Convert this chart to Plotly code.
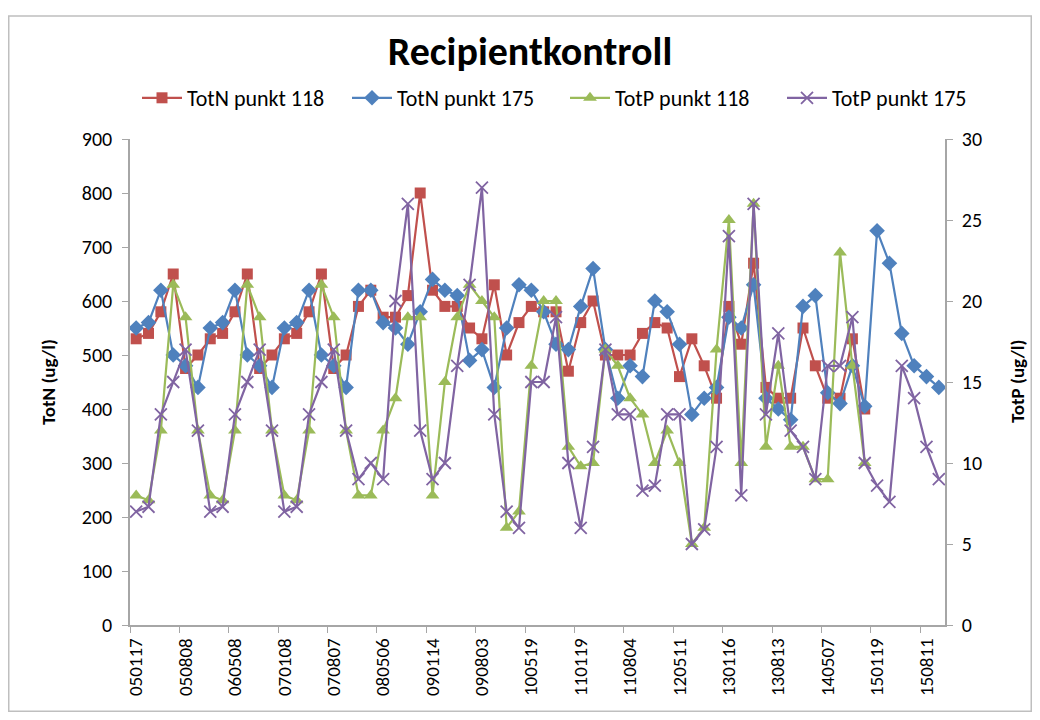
import plotly.graph_objects as go

# Tick labels (every 4th sampling date, YYMMDD)
tick_labels = ["050117", "050808", "060508", "070108", "070807", "080506", "090114",
               "090803", "100519", "110119", "110804", "120511", "130116", "130813",
               "140507", "150119", "150811"]
n_samples = 66

totn_118 = [530, 540, 580, 650, 475, 500, 530, 540, 580, 650, 475, 500,
            530, 540, 580, 650, 475, 500, 590, 620, 570, 570, 610, 800,
            620, 590, 590, 550, 530, 630, 500, 560, 590, 580, 580, 470,
            560, 600, 500, 500, 500, 540, 560, 550, 460, 530, 480, 420,
            590, 520, 670, 440, 420, 420, 550, 480, 420, 420, 530, 400,
            None, None, None, None, None, None]
totn_175 = [550, 560, 620, 500, 480, 440, 550, 560, 620, 500, 480, 440,
            550, 560, 620, 500, 480, 440, 620, 620, 560, 550, 520, 580,
            640, 620, 610, 490, 510, 440, 550, 630, 620, 580, 520, 510,
            590, 660, 510, 420, 480, 460, 600, 580, 520, 390, 420, 440,
            570, 550, 630, 420, 400, 380, 590, 610, 430, 410, 480, 405,
            730, 670, 540, 480, 460, 440]
totp_118 = [8, 7.7, 12, 21, 19, 12, 8, 7.7, 12, 21, 19, 12,
            8, 7.7, 12, 21, 19, 12, 8, 8, 12, 14, 19, 19,
            8, 15, 19, 21, 20, 19, 6, 7, 16, 20, 20, 11,
            9.8, 10, 17, 16, 14, 13, 10, 12, 10, 5, 6, 17,
            25, 10, 26, 11, 16, 11, 11, 9, 9, 23, 16, 10,
            None, None, None, None, None, None]
totp_175 = [7, 7.3, 13, 15, 17, 12, 7, 7.3, 13, 15, 17, 12,
            7, 7.3, 13, 15, 17, 12, 9, 10, 9, 20, 26, 12,
            9, 10, 16, 21, 27, 13, 7, 6, 15, 15, 19, 10,
            6, 11, 17, 13, 13, 8.3, 8.6, 13, 13, 5, 5.9, 11,
            24, 8, 26, 13, 18, 12, 11, 9, 16, 16, 19, 10,
            8.6, 7.6, 16, 14, 11, 9]

xs = list(range(n_samples))
tick_pos = list(range(0, n_samples, 4))

RED = "#C0504D"
BLUE = "#4F81BD"
GREEN = "#9BBB59"
PURPLE = "#8064A2"
AXIS = "#A6A6A6"
FONT = "Carlito, Lato, 'Open Sans', sans-serif"

# figure is drawn at page offset (8, 8) because of the page body margin
W, H = 1024, 704
L, R, T, B = 122, 87, 131, 87
PW, PH = W - L - R, H - T - B

fig = go.Figure()
fig.add_trace(go.Scatter(x=xs, y=totn_118, name="TotN punkt 118", mode="lines+markers",
                         legend="legend",
                         line=dict(color=RED, width=2.2),
                         marker=dict(symbol="square", size=11, color=RED)))
fig.add_trace(go.Scatter(x=xs, y=totn_175, name="TotN punkt 175", mode="lines+markers",
                         legend="legend2",
                         line=dict(color=BLUE, width=2.2),
                         marker=dict(symbol="diamond", size=12, color=BLUE)))
fig.add_trace(go.Scatter(x=xs, y=totp_118, name="TotP punkt 118", mode="lines+markers",
                         legend="legend3",
                         yaxis="y2", line=dict(color=GREEN, width=2.2),
                         marker=dict(symbol="triangle-up", size=12, color=GREEN)))
fig.add_trace(go.Scatter(x=xs, y=totp_175, name="TotP punkt 175", mode="lines+markers",
                         legend="legend4",
                         yaxis="y2", line=dict(color=PURPLE, width=2.2),
                         marker=dict(symbol="x-thin", size=12, color=PURPLE,
                                     line=dict(width=1.8, color=PURPLE))))


def legend_at(page_x):
    return dict(orientation="h", x=(page_x - 8 - L) / PW, xanchor="left",
                y=1 + (T - 90) / PH, yanchor="middle",
                font=dict(size=22, family=FONT), bgcolor="rgba(0,0,0,0)",
                itemwidth=40)


fig.update_layout(
    width=W, height=H,
    margin=dict(l=L, r=R, t=T, b=B),
    paper_bgcolor="white", plot_bgcolor="white",
    font=dict(family=FONT, size=18, color="#000000"),
    title=dict(text="<b>Recipientkontroll</b>", x=522 / W, xref="container", xanchor="center",
               y=1 - 43 / H, yref="container", yanchor="middle",
               font=dict(size=40, family=FONT, color="#000000")),
    legend=legend_at(137),
    legend2=legend_at(347),
    legend3=legend_at(565),
    legend4=legend_at(782),
    showlegend=True,
    xaxis=dict(range=[-0.5, n_samples - 0.5], tickmode="array", tickvals=tick_pos,
               ticktext=tick_labels, tickangle=-90, ticks="", showgrid=False,
               zeroline=False, showline=True, linecolor=AXIS, linewidth=1.5,
               tickfont=dict(size=19, family=FONT), ticklabelstandoff=4,
               minor=dict(ticks="outside", tick0=-0.5, dtick=4, ticklen=6,
                          tickcolor=AXIS, tickwidth=1, showgrid=False)),
    yaxis=dict(range=[0, 900], dtick=100, ticks="outside", ticklen=6, tickcolor=AXIS,
               showgrid=False, zeroline=False, showline=True, linecolor=AXIS,
               linewidth=1.5, tickfont=dict(size=20, family=FONT), ticklabelstandoff=6),
    yaxis2=dict(range=[0, 30], dtick=5, overlaying="y", side="right", ticks="outside",
                ticklen=6, tickcolor=AXIS, showgrid=False, zeroline=False,
                showline=True, linecolor=AXIS, linewidth=1.5,
                tickfont=dict(size=20, family=FONT), ticklabelstandoff=5),
)

fig.add_annotation(text="<b>TotN (ug/l)</b>", xref="paper", yref="paper",
                   x=(40 - L) / PW, y=0.5, xanchor="center", yanchor="middle",
                   textangle=-90, showarrow=False, font=dict(size=19, family=FONT))
fig.add_annotation(text="<b>TotP (ug/l)</b>", xref="paper", yref="paper",
                   x=(1009 - L) / PW, y=0.5, xanchor="center", yanchor="middle",
                   textangle=-90, showarrow=False, font=dict(size=19, family=FONT))

# Chart outer frame
fig.add_shape(type="rect", xref="paper", yref="paper",
              x0=(0.75 - L) / PW, x1=(W - 0.75 - L) / PW,
              y0=(H - B - (H - 0.75)) / PH, y1=(H - B - 8) / PH,
              line=dict(color="#BFBFBF", width=1.5), fillcolor="rgba(0,0,0,0)", layer="below")

fig.write_html("out.html")
